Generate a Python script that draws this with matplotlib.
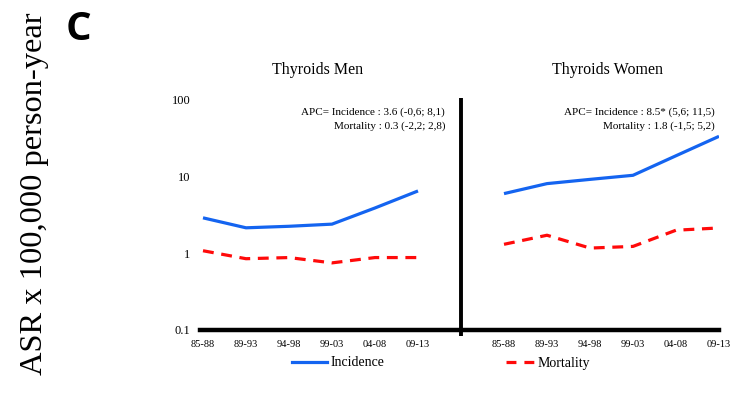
import matplotlib
matplotlib.use('Agg')
import matplotlib.pyplot as plt
from matplotlib.lines import Line2D
import numpy as np

# Data #####################################################################
periods = ['85-88', '89-93', '94-98', '99-03', '04-08', '09-13']
men_incidence = [2.9, 2.15, 2.25, 2.4, 3.9, 6.5]
men_mortality = [1.08, 0.85, 0.88, 0.75, 0.88, 0.88]
women_incidence = [6.0, 8.1, 9.2, 10.4, 18.7, 33.5]
women_mortality = [1.31, 1.72, 1.17, 1.23, 2.0, 2.14]

panel_titles = ['Thyroids Men', 'Thyroids Women']
apc_men = ['APC= Incidence : 3.6 (-0,6; 8,1)', 'Mortality : 0.3 (-2,2; 2,8)']
apc_women = ['APC= Incidence : 8.5* (5,6; 11,5)', 'Mortality : 1.8 (-1,5; 5,2)']

# Style ######################################################################
serif = ['Liberation Serif', 'DejaVu Serif']
blue = '#1464f0'
red = '#ff0a0a'
lw = 2.3
dash = (3.4, 2.4)

fig = plt.figure(figsize=(7.5, 3.95), dpi=100)
W, H = 750, 395
# axes from pixel x 200..719, y 330 (bottom, 0.1) .. 60 (top)
ax = fig.add_axes([200 / W, 1 - 330 / H, 519 / W, 270 / H])
ax.set_yscale('log')
decade = 76.7
ax.set_ylim(0.1, 10 ** (270 / decade - 1))
ax.set_xlim(-3 / 43, 12)

x_left = np.arange(6)
x_right = np.arange(7, 13)

ax.plot(x_left, men_incidence, color=blue, lw=lw, solid_capstyle='butt')
ax.plot(x_left, men_mortality, color=red, lw=lw, dashes=dash)
ax.plot(x_right, women_incidence, color=blue, lw=lw, solid_capstyle='butt')
ax.plot(x_right, women_mortality, color=red, lw=lw, dashes=dash)

# divider between panels
ax.vlines(6, 10 ** (-1 - 6 / decade), 10 ** (232 / decade - 1), color='k', lw=2.8, clip_on=False)

for s in ['top', 'right', 'left']:
    ax.spines[s].set_visible(False)
ax.spines['bottom'].set_linewidth(3.2)

ax.set_xticks(list(x_left) + list(x_right))
ax.set_xticklabels(periods + periods, fontsize=7.5, family=serif)
ax.set_yticks([0.1, 1, 10, 100])
ax.set_yticklabels(['0.1', '1', '10', '100'], fontsize=9, family=serif)
ax.yaxis.set_minor_locator(matplotlib.ticker.NullLocator())
ax.tick_params(axis='both', length=0)
ax.tick_params(axis='x', pad=7)
ax.tick_params(axis='y', pad=7)

# panel titles and APC annotations
trans = matplotlib.transforms.blended_transform_factory(ax.transData, fig.transFigure)
ax.text(2.67, 1 - 70 / H, panel_titles[0], transform=trans, ha='center', va='center',
        fontsize=11.5, family=serif)
ax.text(9.4, 1 - 70 / H, panel_titles[1], transform=trans, ha='center', va='center',
        fontsize=11.5, family=serif)
for i, t in enumerate(apc_men):
    ax.text(5.63, 1 - (112 + 14 * i) / H, t, transform=trans, ha='right', va='center',
            fontsize=8, family=serif)
for i, t in enumerate(apc_women):
    ax.text(11.9, 1 - (112 + 14 * i) / H, t, transform=trans, ha='right', va='center',
            fontsize=8, family=serif)

# y label and panel letter
fig.text(35 / W, 1 - 194 / H, 'ASR x 100,000 person-year', rotation=90, ha='center', va='center',
         fontsize=23.4, family=serif)
fig.text(66 / W, 1 - 29.5 / H, 'C', ha='left', va='center', fontsize=29, fontweight='bold',
         family=['Open Sans', 'DejaVu Sans'])

# legend
handles = [Line2D([], [], color=blue, lw=lw),
           Line2D([], [], color=red, lw=lw, linestyle=(3.4, (3.1, 2.5)))]
fig.legend(handles, ['Incidence', 'Mortality'], ncol=2, frameon=False,
           loc='center left', bbox_to_anchor=(292 / W, 1 - 363 / H),
           borderpad=0, borderaxespad=0, handlelength=2.5, handletextpad=0.25,
           columnspacing=8.3, prop={'family': serif, 'size': 10})

fig.savefig('out.png', dpi=100)
